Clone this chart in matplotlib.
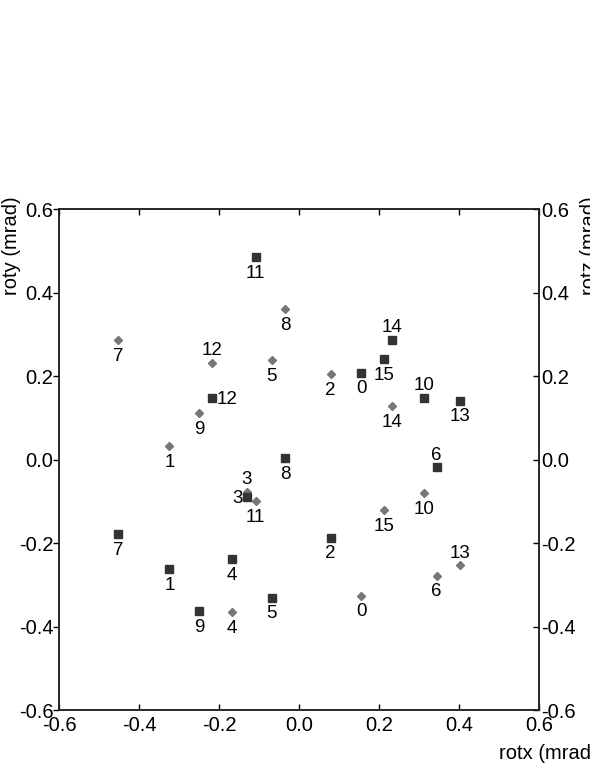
import matplotlib
matplotlib.use("Agg")
import matplotlib.pyplot as plt

plt.rcParams['font.family'] = ['Liberation Sans', 'DejaVu Sans']
plt.rcParams['axes.unicode_minus'] = False

# Data
index = list(range(16))
rotx = [0.155, -0.324, 0.079, -0.131, -0.167, -0.068, 0.344, -0.452,
        -0.035, -0.250, 0.312, -0.108, -0.217, 0.402, 0.233, 0.212]
roty = [-0.325, 0.033, 0.205, -0.076, -0.365, 0.238, -0.277, 0.287,
        0.361, 0.112, -0.079, -0.098, 0.233, -0.253, 0.128, -0.121]
rotz = [0.209, -0.261, -0.186, -0.088, -0.237, -0.330, -0.018, -0.177,
        0.004, -0.362, 0.149, 0.486, 0.149, 0.142, 0.288, 0.241]

# where the index label sits next to each point
roty_pos = ['below'] * 16
for i in [3, 12, 13]:
    roty_pos[i] = 'above'
rotz_pos = ['below'] * 16
for i in [6, 10, 14]:
    rotz_pos[i] = 'above'
rotz_pos[12] = 'right'
rotz_pos[3] = 'left'

ticks = [-0.6, -0.4, -0.2, 0.0, 0.2, 0.4, 0.6]
tick_labels = ['%.1f' % t for t in ticks]

fig = plt.figure(figsize=(5.9, 7.63), dpi=100)
fig.set_facecolor('white')
ax = fig.add_axes([0.1, 0.069, 0.8136, 0.6566])
ax2 = ax.twinx()


def label_points(axis, xs, ys, pos):
    for i, x, y, p in zip(index, xs, ys, pos):
        if p == 'above':
            off, ha, va = (0, 5.5), 'center', 'baseline'
        elif p == 'right':
            off, ha, va = (3, 0), 'left', 'center_baseline'
        elif p == 'left':
            off, ha, va = (-3, 0), 'right', 'center_baseline'
        else:
            off, ha, va = (0, -15), 'center', 'baseline'
        axis.annotate(str(i), (x, y), xytext=off, textcoords='offset points',
                      ha=ha, va=va, fontsize=13.5, color='black')


ax.plot(rotx, roty, linestyle='none', marker='D', markersize=3.6,
        color='#777777', markeredgecolor='#777777')
label_points(ax, rotx, roty, roty_pos)

ax2.plot(rotx, rotz, linestyle='none', marker='s', markersize=6,
         color='#333333', markeredgecolor='#333333')
label_points(ax2, rotx, rotz, rotz_pos)

for a in (ax, ax2):
    a.set_xlim(-0.6, 0.6)
    a.set_ylim(-0.6, 0.6)
    a.set_yticks(ticks)
    a.set_yticklabels(tick_labels, fontsize=14.5)
ax.set_xticks(ticks)
ax.set_xticklabels(tick_labels, fontsize=14.5)

ax.tick_params(axis='x', direction='in', top=True, length=4, width=1, pad=4)
ax.tick_params(axis='y', direction='out', length=4, width=1, pad=0)
ax2.tick_params(axis='y', direction='in', length=4, width=1, pad=1.5)

for a in (ax, ax2):
    for s in a.spines.values():
        s.set_linewidth(1.1)
        s.set_color('#222222')

ax.set_ylabel('roty (mrad)', fontsize=14.5)
ax.yaxis.set_label_coords(-0.079, 0.928)
ax2.set_ylabel('rotz (mrad)', fontsize=14.5, rotation=90)
ax2.yaxis.set_label_coords(1.085, 0.928)
ax.set_xlabel('rotx (mrad)', fontsize=14.5)
ax.xaxis.set_label_coords(1.02, -0.067)

fig.savefig('out.png', dpi=100, facecolor='white')
